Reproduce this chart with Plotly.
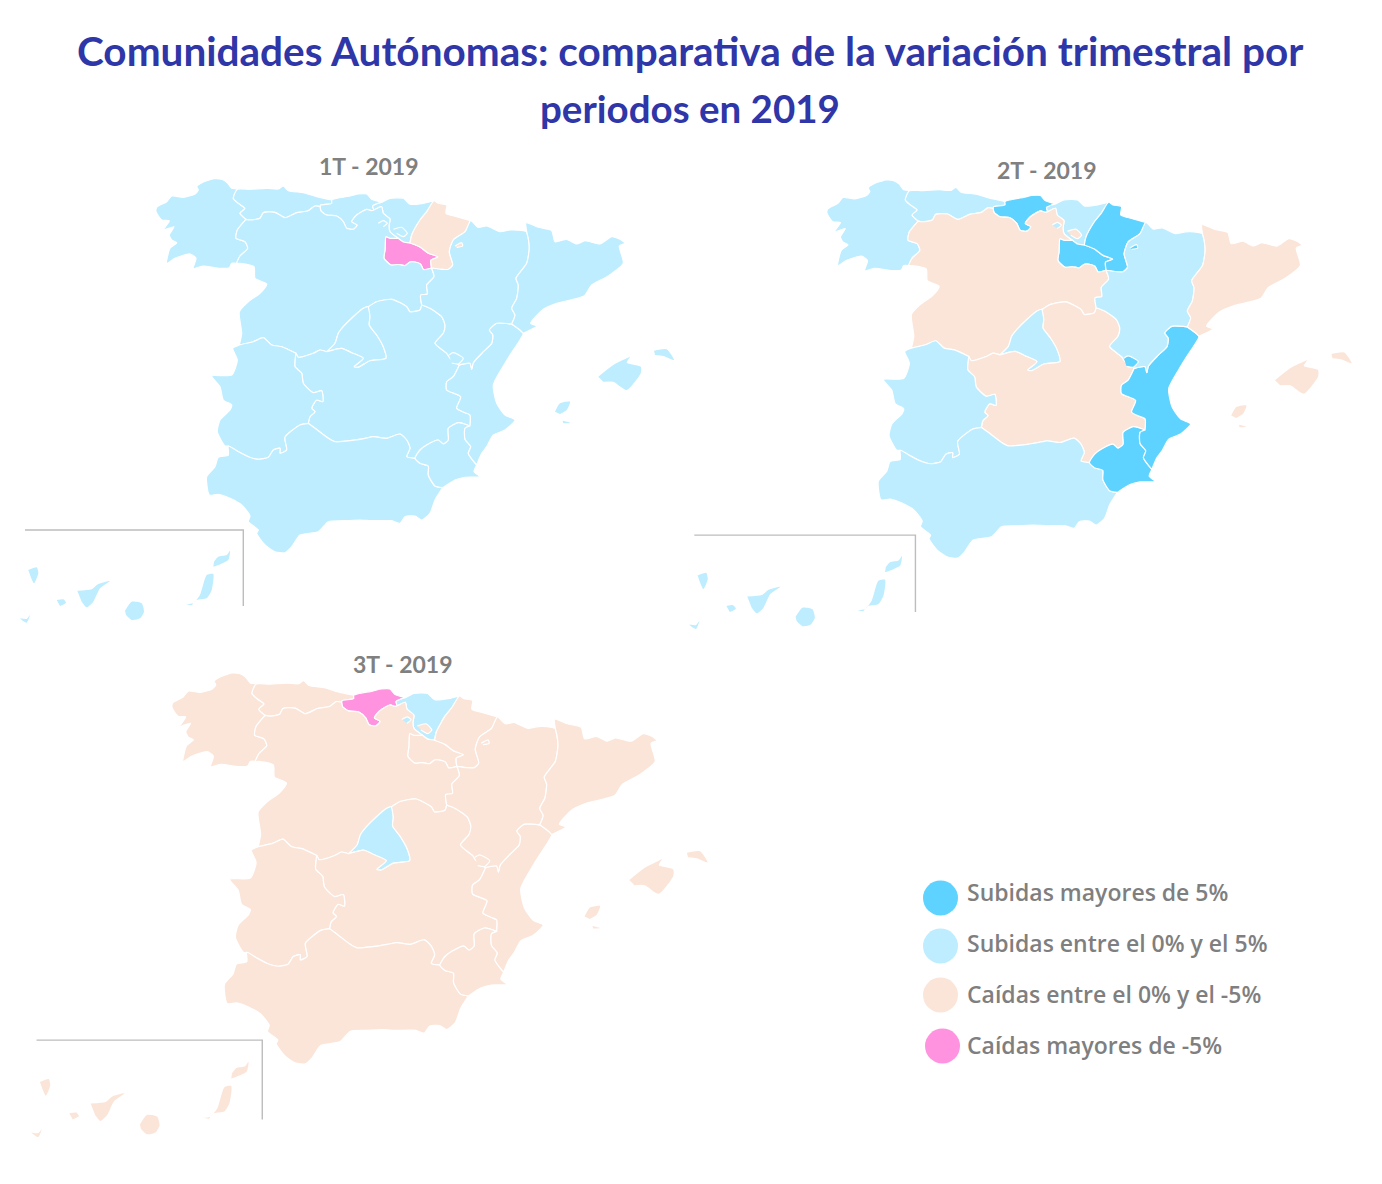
"""
Comunidades Autónomas: variación trimestral por periodos, 2019
"""

import plotly.graph_objects as go

# categorías de la leyenda (0-3)
CATEGORIAS = ["Subidas mayores de 5%", "Subidas entre el 0% y el 5%",
              "Caídas entre el 0% y el -5%", "Caídas mayores de -5%"]
COLORES = ["#5FD3FF", "#BDEDFF", "#FBE5D9", "#FF93E0"]

REGIONES = ["Galicia", "Asturias", "Cantabria", "País Vasco", "Navarra", "La Rioja",
            "Aragón", "Cataluña", "Castilla y León", "Madrid", "Castilla-La Mancha",
            "Extremadura", "Andalucía", "Murcia", "C. Valenciana", "Baleares", "Canarias"]
T1_2019 = [1, 1, 1, 1, 2, 3, 1, 1, 1, 1, 1, 1, 1, 1, 1, 1, 1]
T2_2019 = [1, 1, 0, 1, 0, 0, 1, 2, 2, 1, 2, 1, 1, 0, 0, 2, 1]
T3_2019 = [2, 2, 3, 1, 2, 2, 2, 2, 2, 1, 2, 2, 2, 2, 2, 2, 2]
TITULOS = ["1T - 2019", "2T - 2019", "3T - 2019"]

# fronteras en unidades de mapa (eje y hacia abajo)
costa_gal = [(237.3, 189.3), (231.7, 188.3), (227.3, 182.7), (221.7, 179.3), (214, 178.7), (209.3, 180),
             (203.3, 182), (196.7, 186.7), (198.3, 190), (195, 194), (183.3, 197.3), (171.7, 196),
             (166.7, 201.7), (156.7, 207.3), (156, 211.7), (161.7, 220), (169.3, 220.7), (163.3, 230),
             (174, 226.7), (169.3, 235), (171.7, 240), (176.7, 242.7), (170, 248.3), (166.7, 263.3),
             (175, 258.3), (190, 254), (196, 258.3), (193.3, 268.3), (203.3, 266), (220, 268.3),
             (229.3, 267.7), (231.7, 263.3), (236.7, 263.3)]
gal_cyl = [(236.7, 263.3), (240, 256), (247.7, 248.3), (245, 241.7), (236, 238.3), (237.3, 230), (246, 219.3)]
gal_ast = [(246, 219.3), (240, 213.3), (245, 208.3), (238.3, 203.3), (233.3, 198.3), (237.3, 189.3)]
costa_ast = [(237.3, 189.3), (250, 189.3), (266.7, 188.3), (278.3, 189), (283.3, 186), (288.3, 190.7),
             (303.3, 192.7), (316.7, 196.7), (331.7, 200)]
ast_can = [(331.7, 200), (331.7, 203.3), (320.7, 205), (320, 206.7)]
ast_cyl = [(246, 219.3), (250, 220), (260, 218.3), (263.3, 212.7), (275, 212.3), (285, 217.7),
           (296.7, 212.7), (308.3, 210.7), (315, 206), (320, 206.7)]
costa_can = [(331.7, 200), (336.7, 198.3), (350, 196), (358.3, 194), (366.7, 194), (371.7, 199.3), (381.7, 202.3)]
can_cyl = [(320, 206.7), (321, 211), (326.7, 215), (336.7, 216), (343.3, 221.7), (346.7, 228.3), (353.3, 229.3),
           (357.3, 225), (351.7, 221.7), (356.7, 215), (366.7, 209.3), (371.7, 210.7), (374, 210)]
can_pv = [(374, 210), (372.7, 206), (378.3, 203.3), (381.7, 202.3)]
costa_pv = [(381.7, 202.3), (390, 198.3), (403.3, 198.3), (410, 204.3), (423.3, 203.3), (434, 200.7)]
pv_nav = [(434, 200.7), (426.7, 211.7), (420, 220), (411.7, 235), (410, 243)]
pv_rio = [(410, 243), (403.3, 242), (398.3, 238.3)]
pv_cyl = [(374, 210), (381.7, 206.7), (383.3, 213.3), (390, 219), (389, 226), (390, 231.7), (398.3, 238.3)]
rio_nav = [(410, 243), (420, 247), (428, 253), (438, 257), (431, 260), (431.5, 268)]
rio_cyl = [(398.3, 238.3), (390, 238.3), (386, 236.7), (385, 250), (384, 258.3), (391, 265), (398.3, 264.5),
           (405, 265.5), (410, 262), (415, 262), (420.5, 264), (423.5, 269.5), (431.5, 268)]
costa_nav = [(434, 200.7), (438.3, 203.3), (446.7, 205), (446, 213.3), (456.7, 216.7), (470.7, 220.7)]
nav_ara = [(470.7, 220.7), (465, 231.7), (453.3, 240), (449.3, 251.7), (452.7, 265), (448.3, 269.3),
           (441.7, 269.3), (431.5, 268)]
ara_fr = [(470.7, 220.7), (478.3, 227.3), (486.7, 226), (500, 231.7), (510, 230), (523.3, 230.7), (526.7, 231.7)]
ara_cat = [(526.7, 231.7), (528.3, 238.3), (529.3, 248.3), (526.7, 263.3), (516, 278.3), (518.3, 285),
           (516.7, 298.3), (511.7, 308.3), (515, 315), (511.7, 324)]
ara_val = [(511.7, 324), (496.7, 323.3), (489.3, 330), (492.7, 335), (491.7, 343.3), (483.3, 351.7),
           (473.3, 362.7), (471.7, 369.3), (470, 363.3), (459.3, 365)]
ara_clm = [(421.7, 305), (430, 308.3), (441.7, 316.7), (445, 325), (443.3, 333.3), (435, 343.3),
           (446.7, 353.3), (450, 358), (459.3, 365)]
cyl_ara = [(431.5, 268), (434, 276.7), (426.7, 285), (427.3, 294), (420.7, 295), (421.7, 305)]
cyl_clm_e = [(421.7, 305), (420, 310), (410, 311.7), (406.7, 306.7), (391.7, 299.3), (376.7, 301.7), (368.3, 306.7)]
cyl_mad = [(368.3, 306.7), (363.3, 308.3), (353.3, 316.7), (343.3, 326.7), (338.3, 333.3), (335, 343.3), (326.7, 351.7)]
mad_clm = [(368.3, 306.7), (370, 316.7), (369.3, 325), (376.7, 335), (383.3, 346.7), (386, 358.3), (370, 360.7),
           (358.3, 367.3), (354, 366.7), (363.3, 358.3), (351.7, 352.7), (341.7, 348.3), (326.7, 351.7)]
cyl_clm_w = [(326.7, 351.7), (320, 350), (313.3, 353.3), (298.3, 357.3), (296, 353.3)]
cyl_port = [(236.7, 263.3), (240, 263.3), (254, 266.7), (255, 278.3), (266.7, 284), (260, 293.3), (248.3, 301.7),
            (239.3, 311.7), (241.7, 333.3), (239.3, 345)]
ext_cyl = [(239.3, 345), (253.3, 341.7), (263.3, 337.7), (271.7, 345), (281.7, 346.7), (296, 353.3)]
ext_port = [(239.3, 345), (232.7, 348.3), (237.3, 360), (231.7, 375), (211.7, 376), (220, 386.7), (223.3, 400),
            (231.7, 405), (230, 410), (220, 420), (217.3, 431.7), (225, 446), (228.3, 446)]
ext_and = [(228.3, 446), (236.7, 450.7), (248.3, 456.7), (258.3, 459.3), (268.3, 457.3), (273.3, 450), (280, 448.3),
           (280, 453.3), (286.7, 450), (285, 437.3), (300, 425), (308.3, 423.3)]
ext_clm = [(308.3, 423.3), (310, 416.7), (315, 411.7), (311.7, 408.3), (316.7, 400), (322.7, 401.7), (321.7, 390.7),
           (313.3, 392.7), (303.3, 383.3), (301.7, 373.3), (295, 366.7), (295, 360), (296, 353.3)]
and_clm = [(308.3, 423.3), (315, 428.3), (328.3, 438.3), (335, 441.7), (355, 440), (365, 438.3), (373.3, 436.7),
           (386.7, 438.3), (400, 434), (406.7, 440), (410, 448.3), (406.7, 456.7), (415, 458.3)]
and_mur = [(415, 458.3), (420, 463.3), (428.3, 466), (428.3, 475), (435, 486), (442.7, 487.7)]
costa_and = [(442.7, 487.7), (435, 500), (430, 513.3), (421.7, 520), (415, 516), (405, 516.7), (400, 523.3),
             (391.7, 520.7), (371.7, 520.7), (360, 520), (343.3, 520.7), (328.3, 521.7), (318.3, 531.7), (300, 535),
             (291.7, 546.7), (285, 552.7), (275, 551.7), (265, 545), (256.7, 533.3), (258.3, 530), (248.3, 521.7),
             (250, 516), (241.7, 505), (230, 498.3), (218.3, 494.3), (209.3, 495), (206.7, 476.7), (215, 466.7),
             (218.3, 457.3), (228.3, 455), (228.3, 446)]
clm_mur = [(415, 458.3), (420, 450), (426.7, 445), (438.3, 440), (443.3, 444), (448.3, 440), (448.3, 428.3),
           (458.3, 422.7), (470, 426)]
mur_val = [(470, 426), (465, 428.3), (465, 439.3), (470.7, 446.7), (468.3, 453.3), (476.7, 465)]
clm_val = [(459.3, 365), (453.3, 376.7), (446.7, 381.7), (446.7, 390), (460.7, 396.7), (456.7, 408.3), (465, 412.7),
           (470, 415), (470, 426)]
costa_mur = [(476.7, 465), (474, 471.7), (480, 476.7), (465, 477.3), (455, 480), (442.7, 487.7)]
costa_val = [(523.3, 333.3), (520, 340), (510, 355), (505, 363.3), (493.3, 385), (496.7, 403.3), (505, 415), (515, 420),
             (505, 430), (493.3, 435), (486.7, 446.7), (481.7, 453.3), (476.7, 465)]
cat_val = [(511.7, 324), (520, 330), (523.3, 333.3)]
costa_cat = [(526.7, 231.7), (526, 222.7), (538.3, 227.3), (551.7, 230.7), (555, 241.7), (566.7, 239.3), (576.7, 244),
             (585, 240.7), (600, 244), (611.7, 236.7), (620, 239.3), (625, 243.3), (619.3, 246), (623.3, 263.3),
             (608.3, 276), (591.7, 285), (584, 296), (556.7, 303.3), (543.3, 309.3), (530.7, 323.3), (536.7, 326),
             (523.3, 333.3)]

# islas
mallorca = [(598.3, 376.7), (613.3, 365), (626.7, 358.3), (630, 356.7), (626.7, 362.7), (640.7, 366.7), (640.7, 373.3),
            (626.7, 390), (613.3, 381.7), (603.3, 381.7)]
menorca = [(654, 350.7), (666.7, 349.3), (674, 360), (663.3, 356), (655, 355)]
ibiza = [(555, 411.7), (560, 403.3), (570, 401.7), (566.7, 410), (560, 414)]
formentera = [(562.7, 420.7), (570, 422.7), (563.3, 423.3)]
la_palma = [(28.3, 570), (36.7, 567.3), (38.3, 573.3), (34, 583.3), (30.7, 576.7)]
gomera = [(56.7, 600), (63.3, 599.3), (66, 602.7), (60, 606)]
hierro = [(20, 618.3), (26.7, 619), (30, 615), (26.7, 622.7), (21.7, 620)]
tenerife = [(77.3, 590.7), (91.7, 589.3), (98.3, 584), (110, 581), (100, 588.3), (93.3, 601.7), (86.7, 607.3), (81.7, 601.7)]
gran_canaria = [(125, 610.7), (131.7, 601.7), (141.7, 603.3), (144, 611.7), (140, 618.3), (131.7, 620), (126, 615)]
fuerteventura = [(186, 604.3), (193.3, 603.3), (200, 595), (206.7, 575), (213.3, 574), (211.7, 590), (206.7, 598.3),
                 (196.7, 600), (191.7, 605.3)]
lanzarote = [(214, 561.7), (218.3, 556.7), (226.7, 555), (230, 550.7), (228.3, 560), (218.3, 565), (213.3, 566.7)]
marco_canarias = [(25, 530), (243.3, 530), (243.3, 606)]

# enclaves, se pintan encima
ademuz = [(449, 355), (453.3, 352.7), (463.3, 358.3), (458.3, 364), (451.7, 363)]
trevino = [(393.3, 229.3), (401.7, 227.3), (407.3, 233.3), (403.3, 236.7), (396.7, 233.3)]
orduna = [(378.3, 223.3), (383.3, 220.7), (387.3, 223.3), (383.3, 226.7)]
petilla = [(455, 246), (461.7, 242.7), (462.7, 246), (456.7, 247.3)]


def rev(arco):
    return arco[::-1]


CONTORNOS = {
    "Galicia": [costa_gal + gal_cyl + gal_ast],
    "Asturias": [costa_ast + ast_can + rev(ast_cyl) + gal_ast],
    "Cantabria": [costa_can + rev(can_pv) + rev(can_cyl) + rev(ast_can)],
    "País Vasco": [costa_pv + pv_nav + pv_rio + rev(pv_cyl) + can_pv],
    "La Rioja": [rio_nav + rev(rio_cyl) + rev(pv_rio)],
    "Navarra": [costa_nav + nav_ara + rev(rio_nav) + rev(pv_nav)],
    "Castilla y León": [gal_cyl + ast_cyl + can_cyl + pv_cyl + rio_cyl + cyl_ara + cyl_clm_e + cyl_mad + cyl_clm_w
                        + rev(ext_cyl) + rev(cyl_port)],
    "Madrid": [mad_clm + rev(cyl_mad)],
    "Castilla-La Mancha": [rev(cyl_clm_w) + rev(mad_clm) + rev(cyl_clm_e) + ara_clm + clm_val + rev(clm_mur)
                           + rev(and_clm) + ext_clm],
    "Extremadura": [ext_port + ext_and + ext_clm + rev(ext_cyl)],
    "Andalucía": [ext_and + and_clm + and_mur + costa_and],
    "Murcia": [clm_mur + mur_val + costa_mur + rev(and_mur)],
    "C. Valenciana": [costa_val + rev(mur_val) + rev(clm_val) + rev(ara_val) + cat_val],
    "Aragón": [ara_fr + ara_cat + ara_val + rev(ara_clm) + rev(cyl_ara) + rev(nav_ara)],
    "Cataluña": [costa_cat + rev(cat_val) + rev(ara_cat)],
    "Baleares": [mallorca, menorca, ibiza, formentera],
    "Canarias": [la_palma, gomera, hierro, tenerife, gran_canaria, fuerteventura, lanzarote],
}
ENCLAVES = [("C. Valenciana", ademuz), ("Castilla y León", trevino), ("País Vasco", orduna), ("Navarra", petilla)]
ISLAS = ["Baleares", "Canarias"]

# colocación de cada mapa en la página: origen y escala
ANCHO, ALTO = 1382, 1184
X_REF, Y_REF = 156, 178.7
MAPAS = [
    dict(x=156, y=178.7, sx=1.0, sy=1.0, tit=(369, 166)),
    dict(x=827, y=180, sx=1.013, sy=1.011, tit=(1047, 170)),
    dict(x=172, y=673, sx=1.034, sy=1.045, tit=(403, 664)),
]
LEYENDA_X = [940.5, 940.5, 940.5, 942.5]
LEYENDA_Y = [898, 946, 995, 1046]
LEYENDA_TEXTO_Y = [892, 943, 994, 1045]


def xy(puntos):
    xs, ys = [], []
    for anillo in puntos:
        xs += [p[0] for p in anillo] + [None]
        ys += [p[1] for p in anillo] + [None]
    return xs, ys


fig = go.Figure()
layout_ejes = {}
periodos = [T1_2019, T2_2019, T3_2019]

for i, (mapa, valores) in enumerate(zip(MAPAS, periodos), start=1):
    sufijo = "" if i == 1 else str(i)
    layout_ejes[f"xaxis{sufijo}"] = dict(
        domain=[0, 1], visible=False, anchor=f"y{sufijo}", fixedrange=True,
        range=[X_REF - mapa["x"] / mapa["sx"], X_REF + (ANCHO - mapa["x"]) / mapa["sx"]])
    layout_ejes[f"yaxis{sufijo}"] = dict(
        domain=[0, 1], visible=False, anchor=f"x{sufijo}", fixedrange=True,
        range=[Y_REF + (ALTO - mapa["y"]) / mapa["sy"], Y_REF - mapa["y"] / mapa["sy"]])

    cat = dict(zip(REGIONES, valores))
    for region, anillos in list(CONTORNOS.items()) + [(r, [p]) for r, p in ENCLAVES]:
        xs, ys = xy(anillos)
        fig.add_trace(go.Scatter(
            x=xs, y=ys, mode="lines", fill="toself", fillcolor=COLORES[cat[region]],
            line=dict(color="white", width=0 if region in ISLAS else 1.2, shape="spline", smoothing=0.6),
            name=region, xaxis=f"x{i}", yaxis=f"y{i}",
            hoveron="fills", text=f"{region}: {CATEGORIAS[cat[region]]}", hoverinfo="text", showlegend=False))

    xs, ys = xy([marco_canarias])
    fig.add_trace(go.Scatter(x=xs, y=ys, mode="lines", line=dict(color="#BDBDBD", width=1.4),
                             xaxis=f"x{i}", yaxis=f"y{i}", hoverinfo="skip", showlegend=False))

# leyenda dibujada a mano sobre un cuarto par de ejes
layout_ejes["xaxis4"] = dict(domain=[0, 1], visible=False, anchor="y4", range=[0, ANCHO], fixedrange=True)
layout_ejes["yaxis4"] = dict(domain=[0, 1], visible=False, anchor="x4", range=[ALTO, 0], fixedrange=True)
fig.add_trace(go.Scatter(x=LEYENDA_X, y=LEYENDA_Y, mode="markers", xaxis="x4", yaxis="y4",
                         marker=dict(size=35, color=COLORES, line=dict(width=0)),
                         text=CATEGORIAS, hoverinfo="text", showlegend=False))

anotaciones = []
for etiqueta, y in zip(CATEGORIAS, LEYENDA_TEXTO_Y):
    anotaciones.append(dict(x=965, y=y, xref="x4", yref="y4", text=etiqueta, showarrow=False, xanchor="left",
                            font=dict(family="Open Sans", size=23, color="#7F7F7F", weight=600)))
for titulo, mapa in zip(TITULOS, MAPAS):
    anotaciones.append(dict(x=mapa["tit"][0], y=mapa["tit"][1], xref="x4", yref="y4", text=titulo, showarrow=False,
                            font=dict(family="Lato", size=23, color="#808080", weight=700)))
for linea, y, tam in [("Comunidades Autónomas: comparativa de la variación trimestral por", 50, 40.5),
                      ("periodos en 2019", 108, 38.5)]:
    anotaciones.append(dict(x=690, y=y, xref="x4", yref="y4", text=linea, showarrow=False,
                            font=dict(family="Lato", size=tam, color="#2E36A8", weight=700)))

fig.update_layout(
    width=ANCHO, height=ALTO,
    margin=dict(l=0, r=0, t=0, b=0),
    paper_bgcolor="white", plot_bgcolor="rgba(0,0,0,0)",
    annotations=anotaciones,
    **layout_ejes,
)

fig.write_html("out.html", config={"displayModeBar": False}, post_script="document.body.style.margin='0';")
